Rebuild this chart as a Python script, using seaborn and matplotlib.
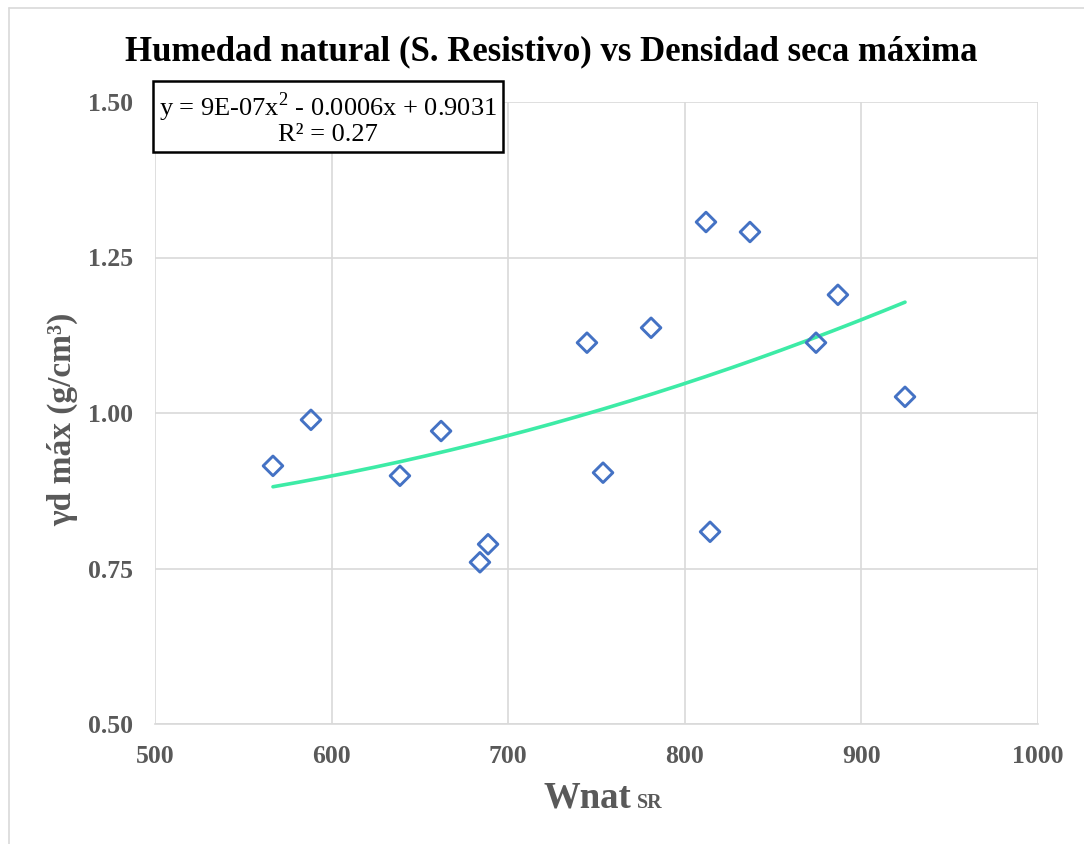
import numpy as np
import pandas as pd
import seaborn as sns
import matplotlib
matplotlib.use("Agg")
import matplotlib.pyplot as plt
from matplotlib.lines import Line2D

# Data
wnat_sr = [566.8, 588.3, 638.7, 662.0, 684.0, 688.6, 744.6, 753.7, 780.9,
           812.0, 814.3, 836.9, 874.3, 886.7, 924.7]
gd_max = [0.915, 0.989, 0.899, 0.971, 0.760, 0.789, 1.113, 0.904, 1.137,
          1.307, 0.809, 1.291, 1.113, 1.190, 1.026]
x_ticks = [500, 600, 700, 800, 900, 1000]
y_ticks = [0.50, 0.75, 1.00, 1.25, 1.50]
title = "Humedad natural (S. Resistivo) vs Densidad seca máxima"
eq_text = "y = 9E-07x$^2$ - 0.0006x + 0.9031\nR² = 0.27"

df = pd.DataFrame({"x": wnat_sr, "y": gd_max})

# Polynomial (order 2) trendline
coef = np.polyfit(df["x"], df["y"], 2)
xs = np.linspace(min(wnat_sr), max(wnat_sr), 200)
trend = pd.DataFrame({"x": xs, "y": np.polyval(coef, xs)})

sns.set_theme(style="white")
plt.rcParams["font.family"] = ["Liberation Serif", "DejaVu Serif"]
plt.rcParams["mathtext.fontset"] = "custom"
plt.rcParams["mathtext.rm"] = "Liberation Serif"

fig = plt.figure(figsize=(10.84, 8.44), dpi=100)
ax = fig.add_axes([155/1084, 1-724/844, (1038-155)/1084, (724-102)/844])

sns.lineplot(data=trend, x="x", y="y", ax=ax, color="#3DEBA6", linewidth=2.6, zorder=2)
sns.scatterplot(data=df, x="x", y="y", ax=ax, marker="D", s=100,
                facecolor="none", edgecolor="#4472C4", linewidth=2.1, zorder=3)

ax.set_xlim(500, 1000)
ax.set_ylim(0.50, 1.50)
ax.set_xticks(x_ticks)
ax.set_yticks(y_ticks)
ax.set_xticklabels([str(t) for t in x_ticks])
ax.set_yticklabels([f"{t:.2f}" for t in y_ticks])
ax.grid(True, color="#D9D9D9", linewidth=1.2)
ax.set_axisbelow(True)
for s in ["top", "right", "left"]:
    ax.spines[s].set_visible(False)
ax.spines["bottom"].set_color("#D9D9D9")
ax.spines["bottom"].set_linewidth(1.2)
ax.tick_params(axis="y", length=0, labelsize=18.5, labelcolor="#595959", pad=16)
ax.tick_params(axis="x", length=0, labelsize=18.5, labelcolor="#595959", pad=15)
for lab in ax.get_xticklabels() + ax.get_yticklabels():
    lab.set_fontweight("bold")

ax.set_xlabel("")
ax.set_ylabel("γd máx (g/cm³)", fontsize=24, fontweight="bold", color="#595959")
ax.yaxis.set_label_coords((78-155)/883, 0.49)

fig.text(631/1084, 1-808/844, "Wnat", ha="right", va="baseline",
         fontsize=26.5, fontweight="bold", color="#595959")
fig.text(637/1084, 1-808/844, "SR", ha="left", va="baseline",
         fontsize=14.5, fontweight="bold", color="#595959")

fig.text(551/1084, 1-60/844, title, ha="center", va="baseline",
         fontsize=25, fontweight="bold", color="black")

fig.text(328/1084, 1-118/844, eq_text, ha="center", va="center", fontsize=19,
         color="black", linespacing=1.0,
         bbox=dict(boxstyle="square,pad=0.22", facecolor="white", edgecolor="black", linewidth=1.8))

# chart-area border
fig.add_artist(Line2D([9/1084, 1], [1-8/844, 1-8/844], color="#D9D9D9", linewidth=1.2))
fig.add_artist(Line2D([9/1084, 9/1084], [0, 1-8/844], color="#D9D9D9", linewidth=1.2))

fig.savefig("out.png", dpi=100)
